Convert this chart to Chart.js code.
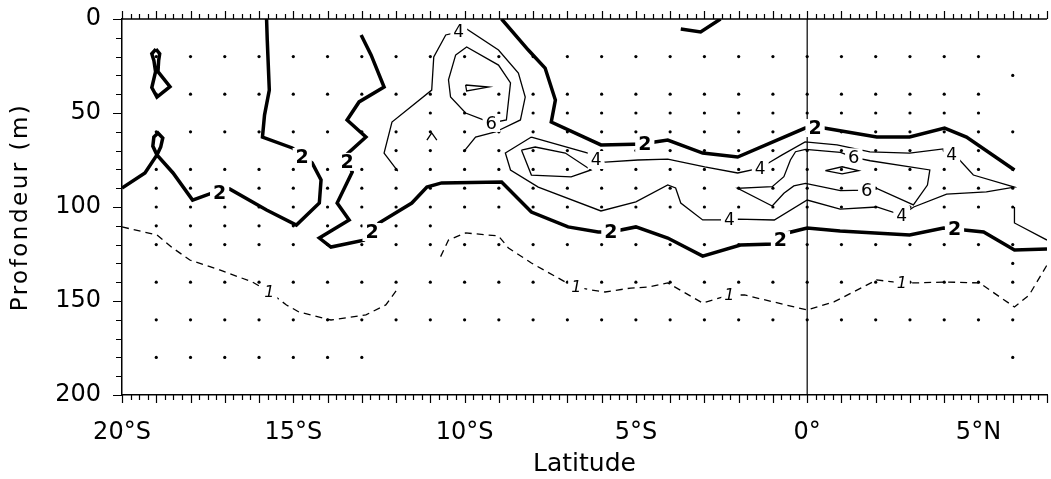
<!DOCTYPE html>
<html>
<head>
<meta charset="utf-8">
<script src="https://cdn.jsdelivr.net/npm/chart.js@4.4.1/dist/chart.umd.min.js"></script>
<style>
  html, body { margin: 0; padding: 0; background: #fff; }
  #wrap { width: 1051px; height: 479px; }
</style>
</head>
<body>
<div id="wrap"><canvas id="chart" width="1051" height="479"></canvas></div>
<script>
// axis ticks
const xTickValues = [-20, -15, -10, -5, 0, 5];
const yTickValues = [0, 50, 100, 150, 200];

// sampling stations (dots): latitudes, depths and the latitude spans of each depth
const stationLats = [-19, -18, -17, -16, -15, -14, -13, -12, -11, -10, -9, -8, -7, -6, -5, -4, -3, -2, -1, 0, 1, 2, 3, 4, 5, 6];
const stationDepths = [20, 30, 40, 50, 60, 70, 80, 90, 100, 110, 120, 130, 140, 160, 180];
const stationSpans = [
  [[-19, 5]], [[6, 6]], [[-19, 5]], [[-11, 5]], [[-19, 6]], [[-12, 5]], [[-19, 6]], [[-19, 6]],
  [[-19, 6]], [[-19, -11]], [[-19, 6]], [[6, 6]], [[-19, 6]], [[-19, 6]], [[-19, -13], [6, 6]]
];

// contour lines [latitude, depth]
// isoline 2 (thick)
const c2Loop = [[-19.01, 16.0], [-18.90, 18.5], [-18.93, 22], [-18.95, 28], [-18.60, 36.0], [-18.98, 41.5],
  [-19.13, 36.5], [-19.02, 28], [-19.07, 22], [-19.13, 18.5], [-19.01, 16.0]];
const c2West = [[-20.0, 89.9], [-19.33, 81.9], [-18.98, 72.3], [-19.10, 67.6], [-19.07, 62.8], [-18.95, 60.6],
  [-18.81, 63.3], [-18.87, 68.1], [-18.98, 72.3], [-18.51, 81.9], [-17.94, 96.3], [-17.38, 92.6],
  [-16.86, 90.4], [-15.78, 101.6], [-14.91, 109.6], [-14.24, 97.9], [-14.19, 85.6], [-14.45, 76.6],
  [-15.03, 68.6], [-15.90, 62.8], [-15.84, 51.1], [-15.70, 37.8], [-15.76, 11.2], [-15.78, 0]];
const c2Mid = [[-13.02, 8.5], [-12.73, 19.1], [-12.35, 36.2], [-13.08, 44.1], [-13.43, 53.7], [-12.88, 62.8],
  [-13.46, 72.3], [-13.43, 76.0], [-13.28, 81.4], [-13.72, 97.9], [-13.37, 106.9], [-14.24, 116.5],
  [-13.90, 121.3], [-12.94, 117.6], [-12.70, 113.3], [-12.50, 108.5], [-11.54, 97.9], [-11.10, 89.4],
  [-10.67, 87.2], [-8.92, 86.7], [-8.05, 102.7], [-6.98, 110.6], [-6.10, 113.3], [-5.73, 113.3],
  [-5.00, 110.6], [-4.07, 116.5], [-3.05, 126.1], [-1.95, 120.2], [-0.96, 119.7], [-0.78, 117.6],
  [-0.58, 113.8], [0, 111.2], [0.96, 112.8], [2.99, 114.9], [3.98, 111.2], [4.30, 111.7], [5.15, 113.3],
  [6.05, 122.9], [7.0, 122.3]];
const c2East = [[-8.92, 0], [-8.14, 16.5], [-7.65, 26.1], [-7.35, 43.1], [-7.47, 54.8], [-6.02, 67.0],
  [-4.74, 66.5], [-4.45, 65.4], [-4.07, 64.4], [-3.05, 71.3], [-2.03, 73.4], [-0.06, 58.0], [0.23, 58.0],
  [0.49, 58.0], [2.03, 62.8], [2.99, 62.8], [4.01, 58.0], [4.65, 62.8], [6.05, 80.3]];
const c2Top = [[-3.69, 5.3], [-3.11, 6.9], [-2.53, 0]];

// isoline 4 (thin)
const c4North = [[-11.95, 80.9], [-12.35, 71.3], [-12.12, 54.8], [-10.96, 37.8], [-10.90, 20.2], [-10.55, 8.5],
  [-10.17, 6.9], [-9.94, 5.3], [-9.01, 16.5], [-8.43, 28.7], [-8.23, 41.5], [-8.37, 53.7], [-9.10, 60.1],
  [-9.68, 62.8], [-10.03, 70.7]];
const c4Caret = [[-11.10, 64.4], [-10.96, 60.6], [-10.81, 64.4]];
const c4Band = [[-8.05, 62.8], [-6.40, 71.3], [-6.16, 75.0], [-5.90, 76.1], [-4.94, 75.0], [-4.07, 74.5],
  [-2.99, 78.7], [-2.03, 81.9], [-1.37, 79.3], [-1.08, 76.1], [-0.73, 72.3], [-0.06, 65.4], [0.87, 67.0],
  [1.83, 70.7], [2.99, 71.3], [3.98, 69.1], [4.22, 72.3], [4.45, 75.0], [4.85, 83.0], [6.05, 89.4],
  [5.23, 92.0], [4.07, 93.1], [3.11, 100.0], [2.76, 104.3], [2.03, 100.0], [0.96, 101.1], [0, 96.3],
  [-0.96, 106.9], [-2.03, 106.4], [-2.27, 106.9], [-3.05, 106.9], [-3.69, 97.9], [-3.84, 89.9],
  [-4.07, 88.3], [-5.00, 97.3], [-6.02, 102.1], [-7.85, 89.4], [-8.66, 80.3], [-8.81, 71.3], [-8.05, 62.8]];
const c4East = [[6.05, 100.0], [6.05, 108.5], [7.0, 117.6]];

// isoline 6 and above (thin)
const c6North = [[-10.26, 19.1], [-9.94, 14.9], [-9.01, 24.5], [-8.66, 34.0], [-8.78, 53.7], [-9.22, 55.3],
  [-9.45, 53.7], [-9.97, 50.0], [-10.41, 41.5], [-10.47, 32.4], [-10.26, 19.1]];
const c8North = [[-9.97, 35.1], [-9.30, 36.2], [-9.94, 38.3], [-9.97, 35.1]];
const c6West = [[-8.34, 69.7], [-7.94, 68.1], [-7.06, 71.3], [-6.31, 80.3], [-6.89, 84.0], [-8.05, 83.0], [-8.34, 69.7]];
const c6Band = [[-0.05, 69.3], [0.97, 70.9], [1.36, 73.6], [1.84, 75.4], [3.58, 80.3], [3.51, 88.3], [3.10, 98.9],
  [2.03, 90.1], [1.74, 91.0], [0.97, 91.3], [-0.05, 87.4], [-0.39, 88.8], [-0.68, 92.7], [-1.02, 99.5],
  [-2.03, 90.1], [-1.02, 89.2], [-0.68, 83.9], [-0.49, 75.0], [-0.34, 70.6], [-0.05, 69.3]];
const c8Band = [[0.53, 80.7], [1.02, 78.6], [1.50, 80.7], [1.02, 82.4], [0.53, 80.7]];

// isoline 1 (dashed)
const c1West = [[-20.0, 110.6], [-18.98, 114.9], [-18.52, 121.8], [-18.02, 128.2], [-17.15, 133.5], [-16.19, 139.9],
  [-15.70, 145.2], [-15.20, 152.1], [-14.83, 155.9], [-13.90, 160.1], [-12.88, 157.4], [-12.30, 152.1], [-11.98, 144.1]];
const c1East = [[-10.70, 126.4], [-10.47, 117.6], [-9.97, 113.8], [-9.01, 115.4], [-8.72, 121.8], [-8.05, 129.8],
  [-7.06, 139.9], [-6.74, 142.6], [-6.31, 144.1], [-5.90, 145.2], [-5.15, 143.1], [-4.65, 142.6], [-4.07, 140.4],
  [-3.05, 151.1], [-2.27, 146.8], [-1.83, 146.8], [0, 154.8], [0.78, 150.5], [2.03, 138.8], [2.76, 140.4],
  [3.11, 140.4], [4.07, 139.9], [5.03, 140.4], [6.05, 153.2], [6.48, 146.8], [7.0, 130.9]];

// contour labels [latitude, depth]
const labels2 = [[-17.15, 92.6], [-14.74, 73.4], [-13.43, 76.0], [-12.70, 113.3], [-5.73, 113.3],
  [-0.78, 117.6], [4.30, 111.7], [-4.74, 66.5], [0.23, 58.0]];
const labels4 = [[-10.17, 6.9], [-6.16, 75.0], [-1.37, 79.3], [4.22, 72.3], [2.76, 104.3], [-2.27, 106.9]];
const labels6 = [[-9.22, 55.3], [1.36, 73.6], [1.74, 91.0]];
const labels1 = [[-15.70, 145.2], [-6.74, 142.6], [-2.27, 146.8], [2.76, 140.4]];

const stations = [];
stationDepths.forEach(function (d, i) {
  stationSpans[i].forEach(function (span) {
    stationLats.filter(l => l >= span[0] && l <= span[1]).forEach(l => stations.push({ x: l, y: d }));
  });
});

function contour(pts, width, dash) {
  return {
    data: pts.map(p => ({ x: p[0], y: p[1] })),
    showLine: true,
    pointRadius: 0,
    borderColor: "#000",
    borderWidth: width,
    borderDash: dash || [],
    tension: 0,
    order: 1,
  };
}

function fmtLat(v) {
  if (v < 0) return -v + "°S";
  if (v > 0) return v + "°N";
  return "0°";
}

const decorPlugin = {
  id: "decor",
  afterDatasetsDraw(chart) {
    const { ctx, scales } = chart;
    const x = scales.x, y = scales.y;
    function drawLabels(list, text, font) {
      ctx.font = font;
      ctx.textAlign = "center";
      ctx.textBaseline = "middle";
      list.forEach(function (p) {
        const px = x.getPixelForValue(p[0]);
        const py = y.getPixelForValue(p[1]);
        const w = ctx.measureText(text).width;
        ctx.fillStyle = "#fff";
        ctx.fillRect(px - w / 2 - 3, py - 9, w + 6, 18);
        ctx.fillStyle = "#000";
        ctx.fillText(text, px, py + 1);
      });
    }
    ctx.save();
    drawLabels(labels2, "2", "bold 19px 'DejaVu Sans'");
    drawLabels(labels4, "4", "17px 'DejaVu Sans'");
    drawLabels(labels6, "6", "18px 'DejaVu Sans'");
    drawLabels(labels1, "1", "italic 16px 'DejaVu Sans'");
    ctx.restore();
  },
  afterDraw(chart) {
    const { ctx, chartArea: a, scales } = chart;
    const x = scales.x, y = scales.y;
    ctx.save();
    ctx.strokeStyle = "#000";
    ctx.lineWidth = 1.5;
    ctx.beginPath();
    ctx.moveTo(a.left, a.top);
    ctx.lineTo(a.right, a.top);
    ctx.stroke();

    // minor (0.25 deg) and major (1 deg) ticks, top and bottom
    ctx.lineWidth = 1.2;
    ctx.beginPath();
    for (let i = 0; i <= 108; i++) {
      const v = -20 + i * 0.25;
      const px = Math.round(x.getPixelForValue(v)) + 0.5;
      const major = i % 4 === 0;
      ctx.moveTo(px, a.bottom);
      ctx.lineTo(px, a.bottom + (major ? 8 : 5));
      ctx.moveTo(px, a.top);
      ctx.lineTo(px, a.top - (major ? 8 : 5));
    }
    // depth ticks every 10 m
    for (let d = 0; d <= 200; d += 10) {
      const py = Math.round(y.getPixelForValue(d)) + 0.5;
      ctx.moveTo(a.left, py);
      ctx.lineTo(a.left - (d % 50 === 0 ? 9 : 6), py);
    }
    ctx.stroke();

    // y axis title
    ctx.translate(21, (a.top + a.bottom) / 2);
    ctx.rotate(-Math.PI / 2);
    ctx.font = "23px 'DejaVu Sans'";
    ctx.letterSpacing = "2.5px";
    ctx.fillStyle = "#000";
    ctx.textAlign = "center";
    ctx.textBaseline = "middle";
    ctx.fillText("Profondeur (m)", 0, 0);
    ctx.restore();
  },
};

new Chart(document.getElementById("chart"), {
  type: "scatter",
  data: {
    datasets: [
      { data: stations, pointRadius: 1.6, pointBackgroundColor: "#000", pointBorderWidth: 0, showLine: false, order: 10 },
      { data: [{ x: 0, y: 0 }, { x: 0, y: 200 }], showLine: true, pointRadius: 0, borderColor: "#000", borderWidth: 1.2, order: 5 },
      contour(c2Loop, 3.5),
      contour(c2West, 3.5),
      contour(c2Mid, 3.5),
      contour(c2East, 3.5),
      contour(c2Top, 3.5),
      contour(c4North, 1.3),
      contour(c4Caret, 1.3),
      contour(c4Band, 1.3),
      contour(c4East, 1.3),
      contour(c6North, 1.3),
      contour(c8North, 1.3),
      contour(c6West, 1.3),
      contour(c6Band, 1.3),
      contour(c8Band, 1.3),
      contour(c1West, 1.3, [7, 5]),
      contour(c1East, 1.3, [7, 5]),
    ],
  },
  options: {
    responsive: false,
    animation: false,
    devicePixelRatio: 1,
    layout: { padding: { top: 19, right: 0, bottom: 0, left: 0 } },
    plugins: { legend: { display: false }, tooltip: { enabled: false } },
    scales: {
      x: {
        type: "linear",
        min: -20,
        max: 7,
        position: "bottom",
        grid: { display: false, drawTicks: false },
        border: { display: true, color: "#000", width: 1.5 },
        afterBuildTicks: function (scale) {
          scale.ticks = xTickValues.map(v => ({ value: v }));
        },
        afterFit: function (scale) {
          scale.height = 84;
          scale.paddingLeft = 0;
          scale.paddingRight = 0;
        },
        ticks: {
          autoSkip: false,
          maxRotation: 0,
          padding: 23,
          color: "#000",
          font: { family: "DejaVu Sans", size: 24 },
          callback: v => fmtLat(v),
        },
        title: {
          display: true,
          text: "Latitude",
          color: "#000",
          font: { family: "DejaVu Sans", size: 25 },
          padding: { top: 0, bottom: 0 },
        },
      },
      y: {
        type: "linear",
        min: 0,
        max: 200,
        reverse: true,
        grid: { display: false, drawTicks: false },
        border: { display: true, color: "#000", width: 1.5 },
        afterBuildTicks: function (scale) {
          scale.ticks = yTickValues.map(v => ({ value: v }));
        },
        afterFit: function (scale) {
          scale.width = 122;
          scale.paddingTop = 0;
          scale.paddingBottom = 0;
        },
        ticks: {
          autoSkip: false,
          padding: 21,
          color: "#000",
          font: { family: "DejaVu Sans", size: 24 },
          callback: v => String(v),
        },
      },
    },
  },
  plugins: [decorPlugin],
});
</script>
</body>
</html>
